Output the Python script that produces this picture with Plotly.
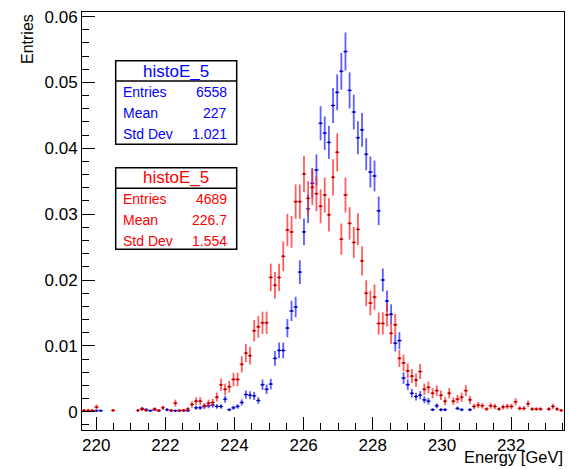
import numpy as np
import plotly.graph_objects as go

# Histogram binning (GeV)
bin_lo = 219.59
bin_width = 0.12
n_bins = 116

# Bin contents, normalised to unit sum
blue_vals = [
    0, 0, 0, 0.00015, 0.00015, 0, 0, 0, 0, 0,
    0, 0, 0, 0, 0.00046, 0.0003, 0.00015, 0.0003, 0.00015, 0,
    0.0003, 0.00015, 0.00015, 0.00015, 0.00015, 0.00015, 0, 0.0006, 0.0006, 0.0008,
    0.0009, 0.001, 0.0008, 0.0008, 0.0019, 0.0003, 0.0006, 0.0008, 0.0014, 0.0026,
    0.0025, 0.0024, 0.0017, 0.0041, 0.0034, 0.0042, 0.0081, 0.0093, 0.0093, 0.0127,
    0.0153, 0.0159, 0.0212, 0.0273, 0.0308, 0.0347, 0.0367, 0.0438, 0.0423, 0.0409,
    0.0465, 0.0485, 0.0517, 0.0547, 0.0488, 0.0455, 0.0416, 0.0428, 0.0391, 0.0364,
    0.0358, 0.0305, 0.0200, 0.0168, 0.0148, 0.0104, 0.0108, 0.0051, 0.0041, 0.0028,
    0.0023, 0.0025, 0.0018, 0.0016, 0.0003, 0.0009, 0.0003, 0.0003, 0, 0,
    0.0005, 0.0003, 0, 0.0003, 0, 0, 0, 0, 0, 0,
    0, 0, 0, 0, 0, 0, 0, 0, 0, 0,
    0, 0, 0, 0, 0, 0,
]
red_vals = [
    0.0002, 0.0002, 0.0002, 0.0007, 0, 0, 0, 0.0002, 0, 0,
    0, 0, 0, 0.0002, 0.0004, 0.0002, 0, 0.0004, 0.0002, 0.0006,
    0, 0.0002, 0.0013, 0.0002, 0.0002, 0.0004, 0.0011, 0.0016, 0.0016, 0.0009,
    0.0013, 0.0014, 0.0022, 0.0041, 0.0034, 0.0038, 0.0049, 0.0049, 0.0072, 0.0089,
    0.0085, 0.0123, 0.0129, 0.0135, 0.0135, 0.0204, 0.0192, 0.0204, 0.0236, 0.0276,
    0.0273, 0.0319, 0.0319, 0.0361, 0.0324, 0.0341, 0.0331, 0.0312, 0.0329, 0.0299,
    0.0356, 0.0394, 0.0262, 0.0329, 0.0286, 0.0257, 0.0277, 0.0229, 0.0180, 0.0165,
    0.0174, 0.0134, 0.0134, 0.0147, 0.0119, 0.0132, 0.0081, 0.0074, 0.0062, 0.0054,
    0.0048, 0.0061, 0.0034, 0.0037, 0.0028, 0.0032, 0.0025, 0.0016, 0.0028, 0.0016,
    0.0019, 0.0022, 0.0032, 0.0018, 0.0008, 0.0010, 0.0009, 0.0004, 0.0009, 0.0008,
    0.0004, 0.0007, 0.0008, 0.0008, 0.0015, 0.0005, 0.0005, 0.0012, 0.0004, 0.0004,
    0.0004, 0, 0.0004, 0.0008, 0.0004, 0.0002,
]

# Statistics boxes
hist_name = "histoE_5"
stat_labels = ["Entries", "Mean", "Std Dev"]
blue_stats = ["6558", "227", "1.021"]
red_stats = ["4689", "226.7", "1.554"]
blue_entries = 6558
red_entries = 4689

x_range = [219.59, 233.53]
y_range = [-0.00278, 0.0607]

# Figure geometry (pixels)
W, H = 571, 469
ML, MR, MT, MB = 82, 7, 12, 39
PW, PH = W - ML - MR, H - MT - MB


def px(x):
    return (x - ML) / PW


def py(y):
    return (H - MB - y) / PH


centers = bin_lo + (np.arange(n_bins) + 0.5) * bin_width


def hist_trace(vals, entries, color, bar_color, dot_color):
    v = np.asarray(vals, dtype=float)
    keep = v > 0
    err = np.sqrt(v[keep] / entries)
    return go.Scatter(
        x=centers[keep], y=v[keep], mode="markers",
        marker=dict(size=2, color=dot_color, symbol="square"),
        error_y=dict(type="data", array=err, width=0, thickness=1.8, color=bar_color),
        error_x=dict(type="constant", value=bin_width / 2, width=0, thickness=1.1, color=color),
        showlegend=False, hoverinfo="skip",
    )


fig = go.Figure()
fig.add_trace(hist_trace(blue_vals, blue_entries, "#0000ff", "rgba(40,40,255,0.75)", "#0000a8"))
fig.add_trace(hist_trace(red_vals, red_entries, "#ff0000", "rgba(255,40,40,0.75)", "#a80000"))

font_family = "Liberation Sans, Arial, Helvetica, sans-serif"

fig.update_layout(
    width=W, height=H,
    margin=dict(l=ML, r=MR, t=MT, b=MB, pad=0),
    paper_bgcolor="white", plot_bgcolor="white",
    font=dict(family=font_family, color="black", size=16),
)
fig.update_xaxes(
    range=x_range, showgrid=False, zeroline=False,
    showline=True, linecolor="black", linewidth=1, mirror=True,
    ticks="inside", ticklen=13, tickwidth=1, tickcolor="black",
    dtick=2, tick0=220, tickfont=dict(size=17),
    minor=dict(ticks="inside", ticklen=7, dtick=0.5, tick0=220, tickcolor="black", showgrid=False),
)
fig.update_yaxes(
    range=y_range, showgrid=False, zeroline=False,
    showline=True, linecolor="black", linewidth=1, mirror=True,
    ticks="inside", ticklen=13, tickwidth=1, tickcolor="black",
    dtick=0.01, tick0=0, tickfont=dict(size=17),
    tickformat="~g",
    minor=dict(ticks="inside", ticklen=7, dtick=0.002, tick0=0, tickcolor="black", showgrid=False),
)

annotations = [
    dict(text="Energy [GeV]", xref="paper", yref="paper", x=px(565), y=py(468),
         xanchor="right", yanchor="bottom", showarrow=False, font=dict(size=16.5)),
    dict(text="Entries", xref="paper", yref="paper", x=px(27), y=py(12),
         xanchor="center", yanchor="top", textangle=-90, showarrow=False, font=dict(size=16)),
]
shapes = []


def stat_box(top, sep, bottom, row_ys, title_y, values, color):
    left, right = 115.7, 236.7
    shapes.append(dict(type="rect", xref="paper", yref="paper",
                       x0=px(left), x1=px(right), y0=py(bottom), y1=py(top),
                       line=dict(color="black", width=1.5), fillcolor="white", layer="above"))
    shapes.append(dict(type="line", xref="paper", yref="paper",
                       x0=px(left), x1=px(right), y0=py(sep), y1=py(sep),
                       line=dict(color="black", width=1.5), layer="above"))
    annotations.append(dict(text=hist_name, xref="paper", yref="paper",
                            x=px((left + right) / 2), y=py(title_y),
                            xanchor="center", yanchor="middle", showarrow=False,
                            font=dict(size=17, color=color)))
    for lab, val, yy in zip(stat_labels, values, row_ys):
        annotations.append(dict(text=lab, xref="paper", yref="paper", x=px(121), y=py(yy),
                                xanchor="left", yanchor="middle", showarrow=False,
                                font=dict(size=14, color=color)))
        annotations.append(dict(text=val, xref="paper", yref="paper", x=px(229), y=py(yy),
                                xanchor="right", yanchor="middle", showarrow=False,
                                font=dict(size=14, color=color)))


stat_box(60.7, 81, 144.3, [91.7, 113.3, 133.8], 71, blue_stats, "#0000ff")
stat_box(167.7, 188.3, 249.3, [199, 220, 241], 178, red_stats, "#ff0000")

fig.update_layout(annotations=annotations, shapes=shapes)
fig.write_html("out.html")
